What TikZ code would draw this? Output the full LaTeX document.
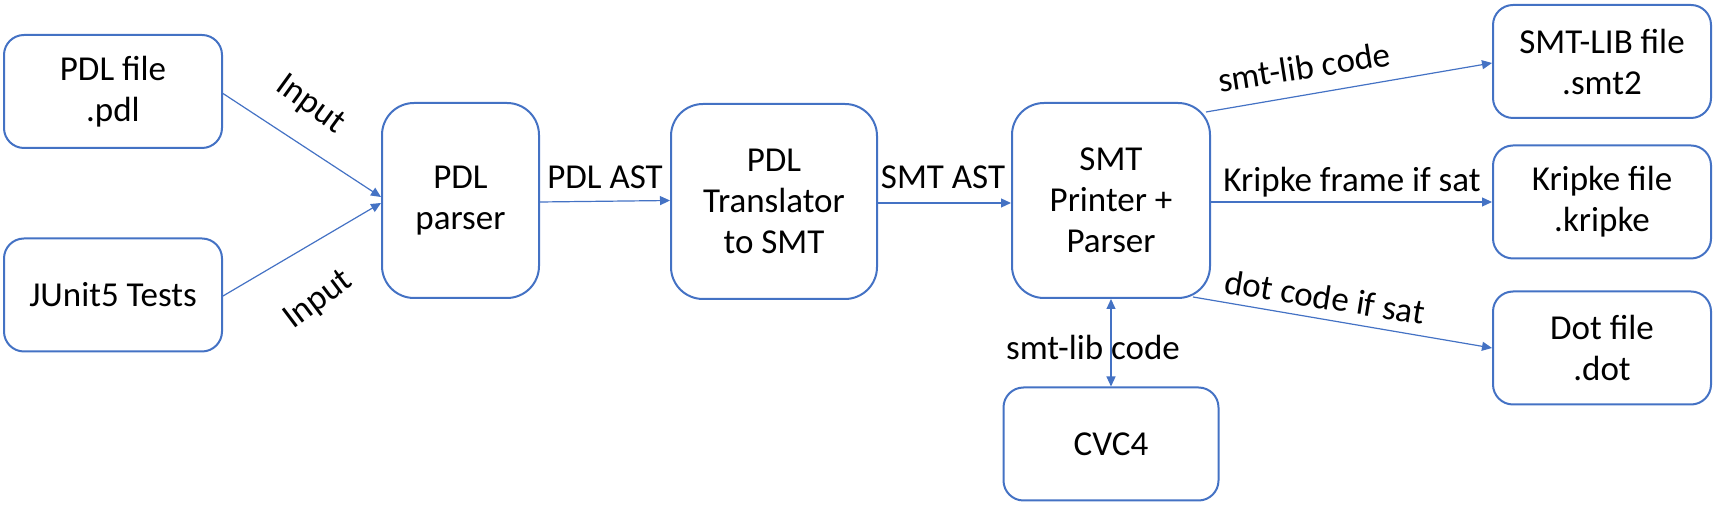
\documentclass[tikz,border=0pt]{standalone}
\usepackage{fontspec}
\setmainfont{Carlito}
\usetikzlibrary{arrows.meta,calc}
\definecolor{obl}{HTML}{4472C4}
\begin{document}
\begin{tikzpicture}[x=0.5pt,y=-0.5pt,
  box/.style={draw=obl,line width=1pt,rounded corners=10pt,align=center,
    font=\fontsize{17.5}{20.5}\selectfont,inner sep=0pt,minimum width=109pt,minimum height=56.5pt},
  bigbox/.style={box,rounded corners=16pt,minimum height=97.5pt},
  conn/.style={draw=obl,line width=0.6pt,-{Triangle[length=5pt,width=4.5pt]}},
  dconn/.style={draw=obl,line width=0.6pt,{Triangle[length=5pt,width=4.5pt]}-{Triangle[length=5pt,width=4.5pt]}},
  lbl/.style={font=\fontsize{17.5}{20.5}\selectfont,inner sep=0pt}]
\useasboundingbox (0,0) rectangle (1718,506);
% nodes
\node[box] (pdl) at (113,91.5) {PDL file\\.pdl};
\node[box] (junit) at (113,295) {JUnit5 Tests};
\node[bigbox,minimum width=78.5pt] (parser) at (460.5,200.5) {PDL\\parser};
\node[bigbox,minimum width=103pt] (trans) at (774,201.5) {PDL\\Translator\\to SMT};
\node[bigbox,minimum width=99pt] (smt) at (1111,200.5) {SMT\\Printer +\\Parser};
\node[box,minimum width=107.5pt] (cvc) at (1111,444) {CVC4};
\node[box] (smtlib) at (1602,61.5) {SMT-LIB file\\.smt2};
\node[box] (kripke) at (1602,202) {Kripke file\\.kripke};
\node[box] (dot) at (1602,348) {Dot file\\.dot};
% connectors
\draw[conn] ([yshift=-1pt]pdl.east) -- ([yshift=1.75pt]parser.west);
\draw[conn] ([yshift=-0.5pt]junit.east) -- ([yshift=-1.25pt]parser.west);
\draw[conn] ([yshift=-0.75pt]parser.east) -- (parser.east -| trans.west);
\draw[conn] ([yshift=-0.75pt]trans.east) -- ([yshift=-0.75pt]trans.east -| smt.west);
\draw[conn] ([xshift=-2.5pt,yshift=-5pt]smt.north east) -- ([yshift=-0.75pt]smtlib.west);
\draw[conn] ([yshift=-0.75pt]smt.east) -- (kripke.west);
\draw[conn] ([xshift=-9pt,yshift=1pt]smt.south east) -- (dot.west);
\draw[dconn] (smt.south) -- (smt.south |- cvc.north);
% labels
\node[lbl,rotate=-36] (in1) at (310,105) {Input};
\node[lbl,rotate=37] (in2) at (319,300) {Input};
\node[lbl] (l1) at (605,177) {PDL AST};
\node[lbl] (l2) at (943,177) {SMT AST};
\node[lbl,rotate=9] (l3) at (1304,67) {smt-lib code};
\node[lbl] (l4) at (1352,182) {Kripke frame if sat};
\node[lbl,rotate=-9] (l5) at (1325,297) {dot code if sat};
\node[lbl] (l6) at (1093,347) {smt-lib code};
\end{tikzpicture}
\end{document}
